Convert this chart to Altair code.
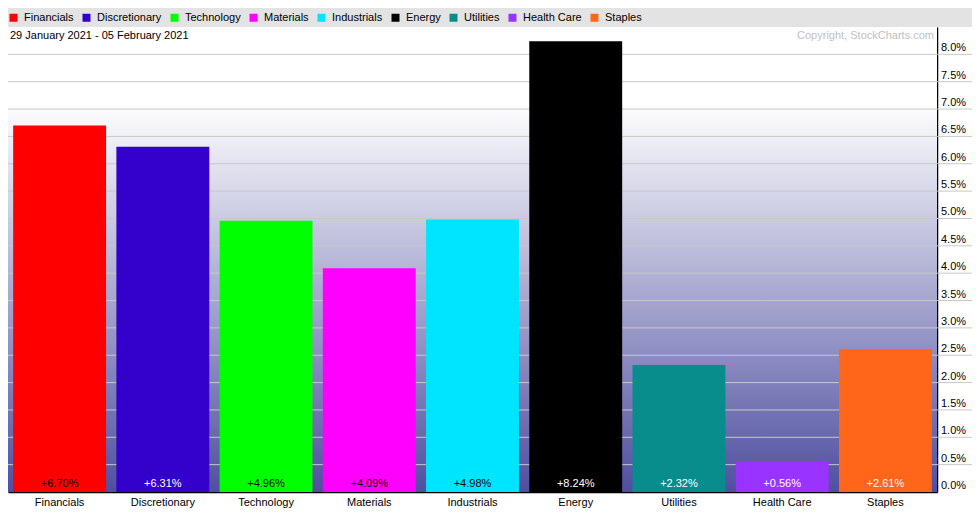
import altair as alt
import pandas as pd

categories = ["Financials", "Discretionary", "Technology", "Materials", "Industrials",
              "Energy", "Utilities", "Health Care", "Staples"]
values = [6.70, 6.31, 4.96, 4.09, 4.98, 8.24, 2.32, 0.56, 2.61]
colors = ["#ff0000", "#3300cc", "#00ff00", "#ff00ff", "#00e5ff",
          "#000000", "#088c8c", "#9933ff", "#ff6619"]
label_colors = ["#000000", "#ffffff", "#000000", "#000000", "#000000",
                "#ffffff", "#ffffff", "#ffffff", "#ffffff"]
tick_values = [0.0, 0.5, 1.0, 1.5, 2.0, 2.5, 3.0, 3.5, 4.0, 4.5, 5.0, 5.5, 6.0, 6.5, 7.0, 7.5, 8.0]
title_text = "29 January 2021 - 05 February 2021"
copyright_text = "Copyright, StockCharts.com"

W, H = 929, 465
FONT = "Liberation Sans"

df = pd.DataFrame({
    "sector": categories,
    "pct": values,
    "label": [f"+{v:.2f}%" for v in values],
    "lc": label_colors,
})
tick_df = pd.DataFrame({"v": tick_values, "t": [f"{v:.1f}%" for v in tick_values]})
grid_df = pd.DataFrame({"v": tick_values[1:]})
one = pd.DataFrame({"a": [0]})

yscale = alt.Scale(domain=[0, 8.5], nice=False, zero=True)
yaxis = alt.Axis(orient="right", title=None, values=tick_values, labels=False,
                 ticks=False, grid=False, domainColor="black", domainWidth=1.5)
xenc = alt.X("sector:N", sort=categories,
             scale=alt.Scale(paddingInner=0.1, paddingOuter=0.05),
             axis=alt.Axis(title=None, labelAngle=0, ticks=False, domainColor="black",
                           domainWidth=1.5, labelColor="black", labelFontSize=11,
                           labelPadding=4, labelFont=FONT))

gradient = alt.LinearGradient(
    gradient="linear", x1=0, y1=0, x2=0, y2=1,
    stops=[alt.GradientStop(color="#ffffff", offset=0),
           alt.GradientStop(color="#ffffff", offset=0.16),
           alt.GradientStop(color="#4f4fa0", offset=1)])

bg = alt.Chart(one).mark_rect(fill=gradient).encode(
    x=alt.value(0), x2=alt.value(W), y=alt.value(0), y2=alt.value(H))

strip = alt.Chart(one).mark_rect(fill="#e3e3e3").encode(
    x=alt.value(0), x2=alt.value(W + 35), y=alt.value(-19), y2=alt.value(0))

grid = alt.Chart(grid_df).mark_rule(color="#c8c8c8", strokeWidth=1).encode(
    y=alt.Y("v:Q", scale=yscale, axis=yaxis),
    x=alt.value(0), x2=alt.value(W + 35))

ylabels = alt.Chart(tick_df).mark_text(align="left", baseline="bottom", dy=-1,
                                       fontSize=11, font=FONT, color="black").encode(
    y=alt.Y("v:Q", scale=yscale, axis=yaxis),
    x=alt.value(W + 4),
    text="t:N")

bars = alt.Chart(df).mark_bar().encode(
    x=xenc,
    y=alt.Y("pct:Q", scale=yscale, axis=yaxis),
    color=alt.Color("sector:N",
                    scale=alt.Scale(domain=categories, range=colors),
                    legend=alt.Legend(title=None, orient="none", legendX=0, legendY=-15,
                                      direction="horizontal", columns=9,
                                      symbolType="square", symbolSize=64,
                                      symbolStrokeWidth=0, labelFontSize=11,
                                      labelFont=FONT, labelColor="black",
                                      columnPadding=7, labelOffset=5,
                                      gridAlign="each")),
)

vals = alt.Chart(df).mark_text(baseline="bottom", dy=-3, fontSize=11, font=FONT).encode(
    x=alt.X("sector:N", sort=categories),
    y=alt.datum(0),
    text="label:N",
    color=alt.Color("lc:N", scale=None),
)

title = alt.Chart(one).mark_text(align="left", baseline="top", fontSize=11, font=FONT,
                                 color="black").encode(
    x=alt.value(2), y=alt.value(3), text=alt.value(title_text))

copyright_ = alt.Chart(one).mark_text(align="right", baseline="top", fontSize=11, font=FONT,
                                      color="#c0c0c0").encode(
    x=alt.value(W - 3), y=alt.value(3), text=alt.value(copyright_text))

chart = alt.layer(bg, strip, grid, bars, vals, ylabels, title, copyright_).properties(
    width=W, height=H,
    autosize=alt.AutoSizeParams(type="none"),
    padding={"left": 0, "top": 19, "right": 35, "bottom": 18},
).configure_view(stroke=None).configure(background="white")

chart.save("out.html", embed_options={"renderer": "svg", "actions": False})
